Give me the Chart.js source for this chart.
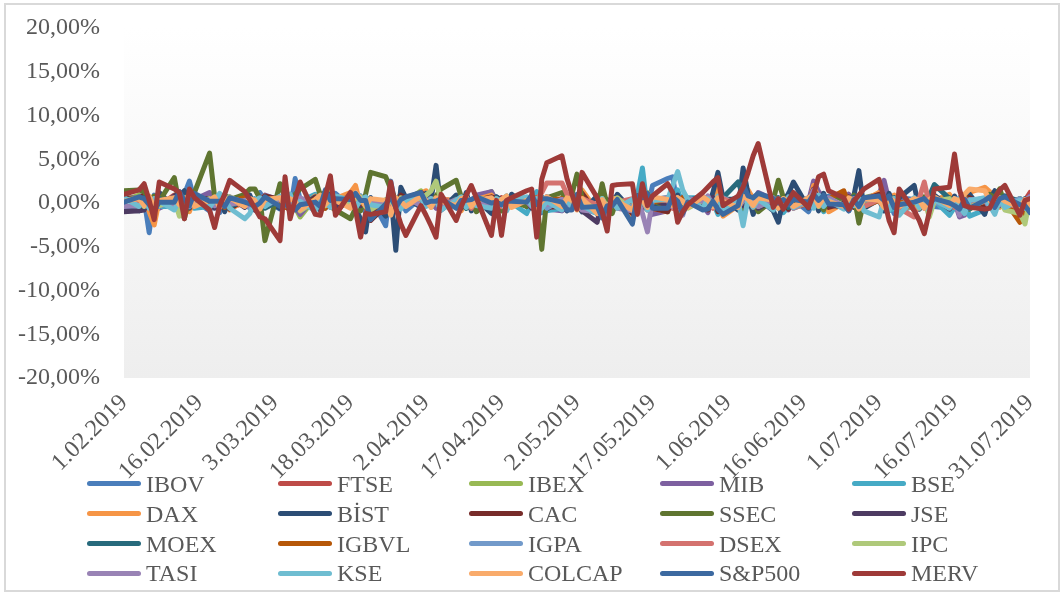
<!DOCTYPE html>
<html><head><meta charset="utf-8">
<script src="https://cdn.jsdelivr.net/npm/chart.js@4.4.1/dist/chart.umd.min.js"></script>
<style>
html,body{margin:0;padding:0;background:#fff;}
#wrap{position:relative;width:1063px;height:594px;overflow:hidden;background:#fff;}
#c{position:absolute;left:0;top:0;}
#frame{position:absolute;left:4px;top:3px;width:1052px;height:585px;border:2px solid #d9d9d9;pointer-events:none;}
#legend{position:absolute;left:0;top:0;width:1063px;height:594px;pointer-events:none;font-family:"Liberation Serif","Times New Roman",serif;font-size:24px;color:#595959;}
.li{position:absolute;display:flex;align-items:center;height:30px;white-space:nowrap;line-height:30px;}
.sw{display:inline-block;width:54px;height:5px;border-radius:3px;margin-right:5px;}
</style></head>
<body>
<div id="wrap">
  <canvas id="c" width="1063" height="594"></canvas>
  <div id="frame"></div>
  <div id="legend"></div>
</div>
<script>
// calendar day offsets from 1.02.2019 of each data row (weekdays)
const dayOffsets = [0,
 3,4,5,6,7, 10,11,12,13,14, 17,18,19,20,21, 24,25,26,27,28, 31,32,33,34,35,
 38,39,40,41,42, 45,46,47,48,49, 52,53,54,55,56, 59,60,61,62,63, 66,67,68,69,70,
 73,74,75,76,77, 80,81,82,83,84, 87,88,89,90,91, 94,95,96,97,98, 101,102,103,104,105,
 108,109,110,111,112, 115,116,117,118,119, 122,123,124,125,126, 129,130,131,132,133, 136,137,138,139,140,
 143,144,145,146,147, 150,151,152,153,154, 157,158,159,160,161, 164,165,166,167,168, 171,172,173,174,175,
 178,179,180];
const tickLabels = ['1.02.2019','16.02.2019','3.03.2019','18.03.2019','2.04.2019','17.04.2019','2.05.2019','17.05.2019','1.06.2019','16.06.2019','1.07.2019','16.07.2019','31.07.2019'];
const seriesNames = ['IBOV','FTSE','IBEX','MIB','BSE','DAX','BİST','CAC','SSEC','JSE','MOEX','IGBVL','IGPA','DSEX','IPC','TASI','KSE','COLCAP','S&P500','MERV'];

// daily returns, %
const IBOV = [0.8, -0.2,0.4,-3.4,0.9,0.6, -0.5,0.8,1.0,2.5,0.3, -0.9,0.4,-1.1,0.6,0.2, 0.9,-0.4,-0.8,1.2,0.3, -0.7,0.5,-1.0,2.8,0.4,
 -0.3,0.9,-0.6,0.2,1.1, -0.4,0.3,0.8,-1.2,0.6, -2.6,2.5,-0.5,0.7,-0.9, 0.6,1.0,-0.4,0.2,-0.8, 0.5,-0.3,0.9,-0.6,0.4,
 -0.2,0.7,-0.5,0.3,0.1, 0.6,-0.4,0.8,-1.1,0.2, 0.4,-0.6,1.0,-0.3,0.5, -0.8,0.3,-1.2,0.6,-0.4, -0.5,0.9,0.4,-0.7,2.0,
 2.8,3.0,-0.5,0.6,-0.2, 0.4,-0.6,0.8,0.3,-0.4, 0.7,-1.0,0.5,0.2,0.9, -0.3,0.6,-0.8,1.1,0.4, -1.0,0.5,0.3,-0.6,0.8,
 0.2,-0.9,0.6,0.4,-0.3, 0.9,-0.5,0.3,-1.2,0.6, 0.4,-0.7,0.5,0.8,-0.4, -0.6,0.3,-0.9,0.7,0.2, 0.5,-0.4,0.9,-0.3,0.6,
 -0.8,0.4,-0.5];
const FTSE = [0.2, 0.6,0.4,0.0,-0.3,-0.3, 0.9,0.3,0.4,0.0,0.3, 0.4,-0.2,0.2,-0.4,-0.4, -0.1,-0.5,0.3,-0.2,0.5, 0.6,0.2,-0.1,0.2,-0.6,
 0.1,-0.8,0.4,1.1,0.3, 0.5,0.7,-0.3,-0.5,-1.9, 0.0,0.3,0.6,0.2,0.1, 0.5,0.4,0.0,0.3,0.1, 0.0,-0.4,0.3,0.2,0.5,
 0.3,0.0,0.6,-0.4,0.0, 0.0,0.3,-0.6,0.3,-0.3, -0.6,0.4,-0.2,0.0,0.6, -1.0,0.3,-1.6,0.1,0.6, -0.5,0.8,-0.2,0.4,-0.6,
 0.6,-0.6,0.3,-0.3,-0.2, 0.6,-0.8,0.0,-0.8,0.0, 0.2,0.6,0.3,0.2,0.5, -0.2,0.3,-0.4,0.3,-0.6, 0.0,1.0,0.3,0.2,-0.1,
 0.2,-0.3,-0.2,0.3,0.3, 1.0,-0.1,0.0,0.4,0.2, -0.4,-0.1,0.2,-0.2,0.0, 0.6,0.5,-0.5,0.6,0.2, 0.0,0.7,0.3,0.8,0.2,
 -0.9,0.3,1.2];
const IBEX = [0.3, 0.9,0.5,-0.6,-0.2,-0.4, 0.6,1.0,0.3,-0.8,0.5, 0.7,0.4,0.5,0.0,0.3, 0.3,-0.1,-0.3,0.4,0.6, 0.4,0.0,-0.6,-0.5,-1.6,
 0.6,0.3,0.2,1.3,0.1, -0.2,0.7,-0.4,0.3,-1.6, -0.6,0.5,-0.1,1.0,0.2, 1.4,0.7,0.2,-0.3,0.4, -0.4,0.5,0.4,0.2,0.6,
 1.3,0.1,-0.3,0.4,0.3, 0.0,0.7,-0.8,0.1,-0.2, -0.4,-0.6,0.5,0.6,1.2, -1.1,0.4,-1.6,0.2,0.6, -1.5,0.5,-0.2,1.2,-0.7,
 -1.0,0.5,-0.3,0.6,0.2, -0.1,-1.0,0.7,-0.6,-0.8, 0.3,1.6,0.5,0.4,0.8, -0.2,0.4,0.6,-0.5,0.3, -0.3,1.4,1.0,0.3,-0.4,
 0.2,0.5,-0.3,-0.6,0.6, 1.0,-0.4,0.3,-0.2,-1.0, 0.0,-0.4,0.6,-0.3,0.1, -0.3,0.1,-1.2,0.9,0.5, -0.6,0.3,0.8,1.6,-0.4,
 -0.5,-0.4,-1.0];
const MIB = [0.5, 0.6,1.0,-0.4,-0.2,-0.6, 0.2,1.3,0.5,-0.8,0.4, 1.2,0.3,0.6,0.2,-0.5, 0.6,0.1,-0.2,0.3,0.9, 0.3,-0.4,-0.2,-0.4,-1.3,
 0.8,0.4,0.2,0.9,0.6, 0.0,0.7,-0.3,0.5,-1.9, -0.4,0.3,-0.2,1.1,0.3, 1.0,0.9,0.1,-0.6,0.5, 0.2,-0.2,0.6,0.0,0.9,
 1.3,0.2,0.4,0.3,0.4, -0.2,0.6,-0.9,0.4,-0.7, -0.9,-0.5,0.6,-0.4,1.1, -1.2,0.5,-2.0,0.3,0.9, -1.2,0.7,-0.6,1.0,-1.3,
 -0.9,0.8,-0.4,0.7,0.4, -0.3,-1.1,1.0,-1.0,-0.5, 0.5,1.6,0.8,0.2,1.2, 0.4,0.1,0.7,-0.8,0.6, 0.2,2.5,1.3,0.6,-0.5,
 0.1,1.0,-0.5,-0.6,0.5, 1.0,2.6,0.2,-0.3,-0.8, 0.2,-0.5,0.6,-0.9,0.4, -0.3,0.2,-1.6,-1.4,0.6, -0.8,0.5,0.9,1.2,-0.3,
 -0.4,-0.6,0.8];
const BSE = [0.2, 0.5,0.4,0.5,0.2,-0.4, -0.4,-0.1,-0.3,-0.1,-0.6, -0.4,0.2,-0.1,1.0,0.0, 0.0,-0.6,0.5,-0.1,0.5, 0.3,1.0,0.5,0.3,0.2,
 1.0,0.5,0.4,0.6,0.1, 0.0,0.3,0.5,0.6,-0.7, -0.9,0.5,0.1,1.0,0.5, 0.7,0.5,-0.5,0.5,0.0, -0.4,0.2,0.5,0.1,0.1,
 0.4,0.6,0.3,0.8,0.0, -1.2,0.1,1.3,-0.9,-0.9, -0.6,0.0,0.3,-0.5,-0.6, -1.2,-0.3,-0.4,-0.6,0.7, -0.7,0.9,4.0,-0.8,0.2,
 0.4,0.4,1.5,-0.2,0.6, 0.6,-0.3,0.1,-1.3,0.4, 0.5,-0.8,-0.3,0.1,0.4, -0.4,-0.6,-1.1,-0.4,0.1, 0.4,1.2,0.7,-1.0,0.4,
 -0.6,0.4,0.5,-0.5,-0.5, 0.5,-0.4,-0.9,-0.6,-1.0, -0.3,0.8,0.0,0.5,0.3, -1.4,-0.5,0.1,0.2,-1.5, -0.8,0.4,-0.4,-0.4,0.5,
 -1.3,-0.4,-0.3];
const DAX = [0.6, 0.4,0.8,-1.0,-2.5,0.3, 0.2,1.2,0.5,-1.0,0.6, 0.3,0.5,0.6,0.4,-0.8, 0.3,-0.2,-0.5,0.2,0.8, 0.2,-0.4,-0.8,-0.7,-0.6,
 0.8,0.5,0.2,0.8,0.5, 1.2,2.0,-0.3,0.4,-1.6, -0.2,0.4,-0.5,0.9,0.5, 1.1,1.4,0.1,0.4,0.5, 0.2,-0.9,0.6,0.3,0.4,
 0.9,0.2,-0.3,0.5,0.0, -0.2,1.0,-0.8,0.6,0.2, -0.5,0.0,-0.1,0.4,1.5, -0.9,0.2,-1.1,0.3,0.5, -1.4,0.6,0.7,1.0,-0.6,
 -1.0,0.6,-0.3,0.6,0.4, 0.0,-0.7,0.6,1.8,-1.5, -0.3,1.6,1.5,0.5,0.4, 0.7,-0.5,0.1,0.1,0.4, -0.3,2.0,0.5,0.3,-1.0,
 0.0,0.3,0.6,-1.2,0.3, 1.2,0.1,0.6,0.9,-0.4, -0.5,0.7,-0.3,-0.7,0.3, 1.0,0.1,0.3,-0.8,1.2, 1.8,1.3,-0.4,-0.5,0.5,
 0.0,-0.8,0.4];
const BIST = [-0.8, -0.9,-0.6,0.4,-0.3,1.2, -0.5,0.8,1.4,-0.2,0.5, 0.3,-0.4,0.8,-1.0,0.6, -0.3,0.9,-0.5,-1.2,0.4, -0.6,0.3,-1.0,0.5,-0.4,
 0.7,-0.8,0.2,1.0,-0.9, 0.4,-0.6,-1.8,-3.3,0.6, -1.5,1.2,-5.4,1.8,0.6, -0.5,1.1,0.3,4.3,-0.8, 0.9,-0.6,1.2,-0.9,0.4,
 -1.2,0.7,0.3,-0.8,1.0, -0.4,0.6,-1.1,0.3,-0.7, 0.5,-0.9,0.6,-0.2,-1.0, 0.8,-1.2,0.4,-0.6,1.0, -0.9,0.5,-0.7,1.0,-0.5,
 0.6,-0.4,0.9,-0.8,0.3, 0.7,-0.5,1.2,3.5,0.6, -0.8,4.0,1.0,-1.3,0.5, -0.9,-2.2,0.4,1.0,2.4, -0.6,0.7,-0.9,1.1,-0.4,
 1.0,-0.5,0.8,3.7,-0.6, 0.4,-0.9,1.1,-0.3,0.6, 2.0,-0.7,0.5,-1.1,0.9, -0.4,0.8,-0.6,0.3,1.0, -1.3,0.5,1.4,-0.3,0.8,
 -0.7,0.5,-0.2];
const CAC = [0.6, 0.5,0.9,-0.3,-1.0,0.2, 0.1,1.2,0.4,-0.6,0.5, 0.5,0.3,0.7,0.3,-0.7, 0.5,0.0,-0.3,0.2,0.8, 0.4,-0.5,-0.6,-0.3,-0.8,
 0.6,0.4,0.3,0.8,0.2, 0.0,1.1,-0.2,0.5,-2.0, -0.3,0.4,-0.6,0.9,0.6, 1.2,0.7,0.4,0.2,0.5, -0.3,-0.5,0.6,0.1,0.3,
 0.7,0.5,-0.2,0.6,0.1, -0.1,0.8,-0.6,0.3,-0.5, -0.4,-0.3,0.2,-0.1,1.1, -1.2,0.3,-1.8,0.4,0.6, -1.2,0.8,-0.4,1.0,-0.6,
 -1.0,0.5,-0.2,0.6,0.3, 0.2,-0.8,0.6,-1.0,-0.6, 0.6,1.5,0.4,0.2,1.0, 0.4,0.3,0.5,-0.7,0.4, 0.2,1.6,0.4,0.2,-0.5,
 0.0,0.7,-0.5,-0.4,0.4, 1.0,0.2,0.1,0.4,-0.5, -0.2,-0.4,0.5,-0.3,0.1, -0.2,0.2,-0.6,0.7,0.6, -0.3,-0.2,0.3,1.0,0.4,
 -0.8,-1.3,0.4];
const SSEC = [1.4, 1.5,1.3,0.4,0.8,0.2, 2.9,-0.2,-1.8,0.6,1.2, 5.7,0.7,-0.3,0.9,0.4, 1.0,1.6,1.6,0.5,-4.3, 2.2,0.6,0.3,1.0,1.6,
 2.7,0.9,1.2,-0.4,-0.8, -1.8,-0.6,-0.9,1.0,3.5, 3.0,1.6,0.3,-0.5,0.6, 1.0,0.4,-0.3,0.8,1.6, 2.6,0.7,-0.6,0.3,-1.0,
 0.5,-0.3,-0.9,0.6,0.2, -0.4,0.5,0.5,-5.3,0.6, 1.2,0.3,1.0,3.3,0.6, -0.8,2.2,-0.3,-1.2,0.5, -0.9,0.4,0.8,-0.6,0.3,
 -0.5,0.9,-1.1,0.4,-0.2, 0.6,-0.4,0.3,-0.8,0.5, 0.3,-0.6,0.8,0.2,-1.0, 0.4,2.6,0.6,-0.5,0.9, -0.3,0.7,0.2,-0.8,0.4,
 0.6,-0.2,0.9,-2.3,0.2, 0.8,-0.6,0.4,0.3,-0.9, 0.5,-0.3,0.7,-0.4,0.2, 0.6,-0.5,0.3,0.9,-0.7, 0.4,1.0,0.6,1.6,-0.3,
 0.5,-0.6,0.2];
const JSE = [-1.0, -0.9,-0.8,0.6,0.3,-0.4, 0.8,1.1,0.3,-0.2,0.2, 0.5,-0.6,0.4,-0.3,0.7, -0.5,0.3,-0.8,0.6,0.2, 0.4,-0.3,0.9,-0.5,0.1,
 0.3,-0.6,0.5,0.8,-0.4, 0.2,0.6,-0.3,0.4,-1.0, -0.4,0.7,0.2,0.5,-0.3, 0.9,0.3,-0.2,0.4,0.6, -0.5,0.2,0.4,-0.3,0.1,
 0.6,-0.4,0.3,0.5,-0.2, 0.4,-0.6,0.2,-0.3,0.7, -0.5,0.3,-0.4,0.6,-0.9, -2.2,0.4,-1.2,0.5,-0.3, -0.6,0.8,0.2,-0.5,0.4,
 -0.3,0.6,-0.7,0.3,0.5, -0.4,0.2,0.6,-0.8,0.3, 0.5,-0.3,0.8,0.4,-0.6, 0.3,-0.5,0.2,0.7,-0.4, 0.6,0.9,-0.3,0.4,-0.2,
 -0.5,0.3,0.6,-0.4,0.2, 0.4,-0.6,0.3,0.5,-0.8, 0.2,0.5,-0.4,0.3,0.6, -0.7,0.2,0.4,-0.5,0.3, 0.5,-0.3,0.2,0.6,-0.4,
 0.3,-0.5,0.4];
const MOEX = [0.5, 0.3,0.6,-0.4,0.2,0.5, -0.3,0.4,0.7,-0.5,0.2, 0.4,-0.2,0.6,0.3,-0.4, 0.2,0.5,-0.3,0.4,-0.6, 0.3,0.6,-0.2,0.5,0.1,
 -0.4,0.3,0.8,-0.2,0.4, 0.6,-0.3,0.2,0.5,-0.7, 0.3,0.5,-0.4,0.2,0.6, 0.4,0.8,-0.2,0.3,-0.5, 0.5,0.2,-0.6,0.4,0.3,
 -0.3,0.6,0.2,-0.4,0.5, 0.3,-0.2,0.5,0.7,-0.3, 0.4,-0.6,0.3,0.5,0.2, -0.8,0.4,-0.5,0.6,0.3, -0.6,0.5,0.2,-0.3,0.4,
 0.6,-0.2,0.3,0.5,-0.4, 0.2,0.7,-0.3,0.4,0.6, 2.4,0.8,-0.2,0.5,0.3, -0.4,0.6,0.2,-0.5,0.4, 0.3,0.5,-0.3,0.6,0.2,
 -0.2,0.4,0.7,-0.4,0.3, 0.5,-0.3,0.2,0.6,-0.5, 0.4,0.3,-0.2,0.8,2.1, 0.5,-0.4,0.3,0.2,-0.6, 0.4,0.6,-0.3,0.5,0.8,
 0.2,-0.4,0.3];
const IGBVL = [0.3, 0.5,-0.2,0.4,0.1,-0.3, 0.2,0.6,-0.4,0.3,0.5, -0.2,0.4,0.3,-0.5,0.2, 0.6,-0.3,0.2,0.4,-0.1, 0.3,-0.5,0.2,0.6,-0.3,
 0.4,0.2,-0.6,0.3,0.5, -0.2,0.4,0.1,-0.3,-0.8, 0.2,0.5,-0.3,0.4,0.1, 0.6,-0.2,0.3,0.5,-0.4, 0.2,0.3,-0.5,0.4,0.1,
 -0.3,0.5,0.2,0.3,-0.2, 0.4,-0.3,0.6,-0.2,0.3, 0.5,0.2,-0.4,0.3,0.6, -0.7,0.4,-0.5,0.2,0.3, -0.4,0.3,0.5,-0.2,0.1,
 0.4,-0.3,0.2,0.6,-0.4, 0.3,0.5,-0.2,0.4,0.2, -0.3,0.6,0.4,-0.5,0.3, 0.2,-0.4,0.5,0.3,-0.2, 0.4,0.6,-0.3,0.2,0.5,
 1.4,-0.2,0.3,0.5,-0.4, 0.3,0.2,-0.5,0.4,0.1, -0.3,0.5,0.2,-0.4,0.3, 0.4,-0.2,0.6,0.3,-0.5, 0.2,0.4,-0.3,0.5,0.3,
 -2.2,-0.8,0.1];
const IGPA = [0.2, 0.4,-0.3,0.5,0.2,-0.4, 0.3,0.6,-0.2,0.4,0.1, -0.5,0.2,0.4,-0.3,0.6, 0.1,-0.4,0.3,0.5,-0.2, 0.4,0.2,-0.6,0.3,0.5,
 -0.3,0.4,0.2,-0.5,0.3, 0.5,-0.2,0.6,0.1,-0.7, 0.3,-0.4,0.5,0.2,-0.3, 0.6,0.3,-0.2,0.4,0.1, -0.4,0.5,0.2,-0.3,0.6,
 0.2,-0.5,0.4,0.3,-0.2, 0.5,0.1,-0.4,0.3,-0.6, 0.4,-0.3,0.2,0.6,-0.4, -0.9,0.3,-0.6,0.4,0.2, -0.5,0.4,0.3,-0.2,0.5,
 0.3,-0.4,0.6,0.2,-0.3, 0.5,0.2,-0.4,0.3,0.6, -0.2,0.4,0.5,-0.3,0.2, 0.6,-0.5,0.3,0.2,-0.4, 0.4,0.7,-0.2,0.3,0.5,
 -0.3,0.4,0.2,-0.5,0.3, 0.5,-0.2,0.4,0.3,-0.6, 0.2,0.5,-0.3,0.4,0.1, -0.4,0.3,0.6,-0.2,0.4, 0.3,-0.5,0.2,0.4,-0.3,
 0.5,0.2,-0.4];
const DSEX = [0.4, 0.2,-0.3,0.5,0.1,-0.2, 0.3,-0.4,0.2,0.6,-0.1, 0.4,0.2,-0.5,0.3,0.1, -0.2,0.5,0.3,-0.4,0.2, 0.6,-0.1,0.3,0.2,-0.5,
 0.1,0.4,-0.3,0.5,0.2, -0.4,0.3,0.6,-0.2,0.1, 0.3,-0.5,0.2,0.4,-0.3, 0.5,0.2,-0.1,0.3,0.6, -0.3,0.4,0.1,-0.6,0.3,
 0.2,0.5,-0.4,0.3,-0.2, 0.6,-0.3,0.4,1.2,2.3, 2.3,1.0,-0.4,0.3,0.5, -0.2,0.4,-0.6,0.3,0.1, 0.5,-0.3,0.2,-0.8,0.4,
 0.3,-0.5,0.6,0.2,-0.3, 0.4,0.1,-0.6,0.3,0.5, -0.3,0.6,0.2,-0.4,0.3, 0.5,-0.2,0.4,0.1,-0.5, 0.3,0.6,-0.3,0.2,0.4,
 -0.5,0.3,0.2,0.5,-0.4, 0.4,-0.3,0.6,0.2,-0.6, -1.6,0.5,2.4,-0.2,0.3, 0.4,-0.5,0.2,0.6,-0.3, 0.2,0.5,-0.4,0.3,0.1,
 -0.6,0.2,0.4];
const IPC = [0.3, 0.6,-0.4,0.2,0.5,-0.3, 0.4,-1.5,0.3,0.6,-0.2, 0.5,0.2,-0.4,0.3,0.7, -0.3,0.4,0.2,-0.6,0.3, 0.5,-0.2,0.4,0.3,-0.9,
 0.2,0.6,-0.3,0.4,0.5, -0.2,0.3,0.7,-0.4,-0.8, 0.4,0.2,-0.5,0.6,0.3, 0.5,0.9,1.4,2.5,0.2, -0.4,0.5,0.3,-0.2,0.6,
 0.3,-0.5,0.4,0.2,-0.3, 0.6,0.2,-0.4,0.5,0.3, -0.5,0.4,0.6,-0.3,0.2, -0.8,0.5,-0.4,0.3,0.6, -0.9,0.4,0.2,-0.5,0.3,
 0.5,-0.3,0.4,0.2,-0.6, 0.3,0.6,-0.2,0.4,0.1, -0.5,0.3,0.6,0.2,-0.4, 0.4,-0.2,0.5,0.3,-0.6, 0.2,0.7,-0.4,0.3,0.5,
 -0.3,0.4,0.2,-0.5,0.3, 0.6,-0.4,0.3,0.5,-0.2, 0.4,-0.6,0.3,-1.6,0.2, 0.5,-0.3,0.4,0.2,-0.5, 0.3,0.6,-0.2,0.4,-0.8,
 -1.2,-2.4,0.6];
const TASI = [-0.4, -0.3,0.2,-0.5,0.4,0.1, -0.2,0.3,0.5,-0.4,0.2, 0.4,-0.3,0.1,0.6,-0.2, 0.3,-0.5,0.4,0.2,-0.3, 0.5,0.2,-0.4,0.3,0.6,
 -0.2,0.4,0.3,-0.5,0.2, 0.6,-0.3,0.2,0.4,-0.1, 0.3,0.5,-0.2,0.4,0.6, -0.3,0.2,0.5,0.3,-0.4, 0.4,-0.2,0.6,0.1,0.3,
 -0.5,0.4,0.2,-0.3,0.5, 0.2,-0.4,0.3,0.6,-0.2, 0.4,0.1,-0.5,0.3,-0.8, -1.0,0.4,-1.3,0.2,-0.6, -0.9,0.5,-1.2,-3.3,0.4,
 0.6,-0.4,0.3,-1.4,0.5, 0.2,0.8,-0.3,0.4,0.2, -0.5,0.3,0.6,0.2,-0.4, 0.4,-0.3,0.2,0.5,-0.6, 0.3,1.5,-0.2,0.4,0.6,
 -0.4,0.3,0.5,-0.2,0.4, 0.6,-0.5,0.2,0.3,-0.3, 0.4,0.2,-0.6,0.3,0.5, -0.3,0.4,-1.4,0.2,0.3, 0.5,-0.4,0.3,-0.2,0.6,
 -0.5,0.3,0.7];
const KSE = [0.6, -0.4,0.3,-0.6,0.5,0.2, -0.8,0.4,0.6,-0.3,0.5, -0.5,0.3,1.1,0.4,-0.6, -1.8,-1.2,0.3,0.6,-0.4, 0.8,0.5,1.0,-0.3,0.2,
 -0.9,0.4,0.6,-0.5,0.8, 0.3,-0.6,0.4,0.7,-0.2, -0.5,0.8,0.3,-0.7,0.4, 0.6,-0.4,0.5,0.2,-0.8, 0.3,0.7,-0.5,0.4,-0.3,
 -0.6,0.5,0.2,-0.9,0.4, 0.7,-0.3,0.5,-0.6,0.2, -0.8,0.4,-0.5,0.6,-0.3, -1.2,0.5,-0.9,0.3,-0.6, 0.4,-1.0,0.6,-0.8,0.3,
 0.4,2.0,3.6,1.5,0.4, -0.6,0.5,-0.4,0.8,-1.0, 0.3,-2.6,0.6,-0.5,0.4, -0.8,0.5,-0.3,0.7,-0.5, 0.4,-0.6,0.9,-0.4,0.3,
 -0.7,0.5,-0.3,0.6,-0.9, -1.6,0.4,-0.8,0.5,-1.4, 0.6,-0.5,0.3,-0.9,0.4, -0.6,0.5,-0.4,-1.2,0.3, 0.6,-0.3,-1.3,0.4,-0.5,
 0.3,-0.6,0.5];
const COLCAP = [0.2, 0.5,-0.3,0.8,-0.5,0.3, 0.6,-0.2,0.4,0.9,-0.4, 0.3,0.7,-0.5,0.2,0.6, -0.4,0.5,0.3,-0.7,0.4, 0.6,-0.3,0.5,0.2,-0.8,
 0.4,0.9,-0.2,0.5,0.3, -0.6,1.2,0.4,-0.3,0.5, 0.3,-1.4,0.6,0.2,-0.4, 0.8,0.3,-0.5,0.6,0.2, -0.3,0.5,0.7,-0.4,0.3,
 0.6,-0.2,0.4,0.8,-0.5, 0.3,0.5,-0.6,0.2,0.7, -0.4,0.6,0.3,-0.8,0.5, -1.2,0.4,-0.7,0.6,0.2, -0.8,0.5,0.3,-0.5,0.7,
 0.4,-0.3,0.6,0.2,-0.5, 0.7,0.3,-0.4,0.6,0.2, -0.5,0.8,0.4,-0.3,0.6, 0.3,-0.6,0.5,0.2,-0.4, 0.6,0.9,-0.3,0.5,0.2,
 -0.4,0.6,0.3,-0.7,0.5, 0.3,-0.5,0.6,0.2,-0.4, 0.5,0.3,-0.6,0.4,0.7, -0.3,0.5,0.2,1.0,1.6, 1.4,0.3,-0.4,0.6,0.2,
 -0.5,0.4,-0.2];
const SP500 = [0.1, 0.7,0.5,-0.2,-0.9,0.1, 0.1,1.3,0.3,-0.3,1.1, 0.2,0.2,0.2,-0.4,0.6, 0.1,-0.1,-0.4,0.0,0.7, -0.4,-0.1,-0.7,-0.8,-0.2,
 0.1,-0.4,1.5,0.3,0.5, 0.4,1.1,0.3,0.3,-1.9, -0.1,0.7,-0.5,0.4,0.7, 1.2,0.0,0.2,0.2,0.5, -0.6,0.3,0.3,0.4,0.7,
 0.0,0.1,-0.2,0.2,0.2, 0.1,0.9,-0.2,0.5,0.5, 0.1,-0.8,-0.8,1.0,-0.5, -0.4,-1.7,-0.3,-0.3,0.4, -2.4,0.8,0.6,1.1,-0.6,
 -0.6,0.7,0.2,-1.2,0.1, -0.8,-0.7,0.2,-0.7,-1.3, -0.3,2.1,0.8,0.6,1.1, 0.5,0.0,0.4,-0.2,0.4, 0.1,1.0,0.3,0.9,-0.1,
 -0.2,-0.9,0.4,-0.4,0.6, 0.8,0.3,0.8,-0.5,-0.2, 0.1,0.3,0.5,-0.1,0.5, 0.0,-0.3,-0.7,0.4,-0.6, 0.3,0.7,-0.5,0.5,0.7,
 -0.2,-0.3,-1.1];
const MERV = [1.0, 1.5,2.2,0.3,-1.9,2.4, 1.6,1.2,-1.8,1.6,0.6, -0.8,-2.8,-0.3,1.0,2.6, 1.3,0.4,-0.6,-1.6,-1.8, -4.3,3.0,-1.8,0.4,2.4,
 -1.3,-1.4,0.8,3.1,-1.4, 1.2,-0.8,-3.9,-1.2,-1.3, -1.0,2.4,-0.6,-2.4,-3.7, -0.3,-1.4,-2.6,-3.9,1.0, -2.0,-0.4,0.9,2.0,0.6,
 -3.7,0.3,-3.7,0.3,0.6, 1.4,1.6,-3.9,2.7,4.6, 5.4,2.8,1.0,-0.7,3.5, 0.6,-1.0,-3.2,2.0,2.1, 2.2,-1.3,2.2,-0.3,0.8,
 2.2,1.2,-2.2,-1.0,-0.2, 1.2,1.8,2.4,2.9,-0.3, 0.8,1.8,3.5,5.4,6.8, -0.5,0.5,-0.7,0.3,1.2, -0.5,1.0,3.0,3.3,1.4,
 0.6,-0.7,0.2,0.9,1.6, 2.7,0.5,-2.0,-3.4,1.6, -0.9,-2.0,-3.5,-1.0,1.6, 1.8,5.6,1.5,-0.3,-0.5, -0.7,-0.6,0.6,1.5,2.0,
 -1.4,0.3,0.5];

const seriesValues = [IBOV, FTSE, IBEX, MIB, BSE, DAX, BIST, CAC, SSEC, JSE, MOEX, IGBVL, IGPA, DSEX, IPC, TASI, KSE, COLCAP, SP500, MERV];
const seriesColors = ['#4a7ebb','#be4b48','#98b954','#7d60a0','#46aac5','#f69546','#2c4d75','#772c2a','#5f7530','#4d3b62',
  '#276a7c','#b65708','#729aca','#d4726f','#afc97a','#9983b5','#6fbdd1','#f9ab6b','#3c69a0','#9e3a38'];

seriesValues.forEach((a,i)=>{ if(a.length!==dayOffsets.length) console.error(seriesNames[i]+' length '+a.length); });

const FONT = '"Liberation Serif","Times New Roman",serif';
const TXT = '#595959';
Chart.defaults.font.family = FONT;
Chart.defaults.font.size = 24;
Chart.defaults.color = TXT;

const plotBg = {
  id: 'plotBg',
  beforeDraw(chart) {
    const {ctx, chartArea: a} = chart;
    const g = ctx.createLinearGradient(0, a.top, 0, a.bottom);
    g.addColorStop(0, '#ffffff');
    g.addColorStop(0.12, '#fdfdfd');
    g.addColorStop(1, '#eeeeee');
    ctx.save();
    ctx.fillStyle = g;
    ctx.fillRect(a.left, a.top, a.right - a.left, a.bottom - a.top);
    ctx.restore();
  }
};

const n = seriesNames.length;
const chart = new Chart(document.getElementById('c'), {
  type: 'line',
  data: {
    datasets: seriesNames.map((name, i) => ({
      label: name,
      data: dayOffsets.map((d, k) => ({x: d, y: seriesValues[i][k]})),
      borderColor: seriesColors[i],
      backgroundColor: seriesColors[i],
      borderWidth: 5,
      pointRadius: 0,
      pointHoverRadius: 0,
      tension: 0,
      fill: false,
      borderJoinStyle: 'round',
      borderCapStyle: 'round',
      order: n - i
    }))
  },
  options: {
    responsive: false,
    animation: false,
    events: [],
    layout: {padding: {top: 28, right: 33, bottom: 0, left: 0}},
    plugins: {legend: {display: false}, tooltip: {enabled: false}},
    scales: {
      x: {
        type: 'linear', min: 0, max: 180,
        grid: {display: false, drawTicks: false},
        border: {display: false},
        afterFit(s) { s.height = 216; },
        ticks: {
          stepSize: 15, autoSkip: false, minRotation: 45, maxRotation: 45, padding: 11,
          color: TXT, font: {family: FONT, size: 24},
          callback: (v) => tickLabels[Math.round(v / 15)]
        }
      },
      y: {
        min: -20, max: 20,
        grid: {display: false, drawTicks: false},
        border: {display: false},
        afterFit(s) { s.width = 124; s.paddingTop = 0; s.paddingBottom = 0; },
        ticks: {
          stepSize: 5, padding: 24,
          color: TXT, font: {family: FONT, size: 24},
          callback: (v) => v.toFixed(2).replace('.', ',') + '%'
        }
      }
    }
  },
  plugins: [plotBg]
});

// legend (5 columns x 4 rows, as in the reference)
const legendCols = [87, 278, 469, 660, 852];
const legendRows = [483.5, 513.5, 543.5, 573];
const leg = document.getElementById('legend');
chart.data.datasets.forEach((ds, i) => {
  const item = document.createElement('div');
  item.className = 'li';
  item.style.left = legendCols[i % 5] + 'px';
  item.style.top = (legendRows[Math.floor(i / 5)] - 15) + 'px';
  const sw = document.createElement('span');
  sw.className = 'sw';
  sw.style.background = ds.borderColor;
  const tx = document.createElement('span');
  tx.textContent = ds.label;
  item.appendChild(sw);
  item.appendChild(tx);
  leg.appendChild(item);
});
</script>
</body></html>
